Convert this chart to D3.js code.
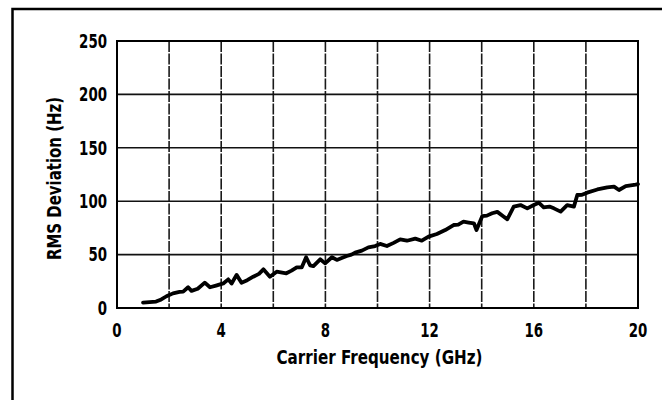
<!DOCTYPE html>
<html>
<head>
<meta charset="utf-8">
<script src="https://cdn.jsdelivr.net/npm/d3@7"></script>
<style>
	body { margin: 0; background: #fff; }
	text { font-family: "DejaVu Sans", sans-serif; font-stretch: condensed; font-weight: bold; fill: #000; }
</style>
</head>
<body>
<script>
// values
const freqGHz = [
	1.0, 1.25, 1.5, 1.7, 1.9, 2.15, 2.4, 2.54, 2.73, 2.86,
	3.1, 3.37, 3.57, 3.8, 4.08, 4.27, 4.4, 4.59, 4.78, 5.0,
	5.23, 5.45, 5.62, 5.87, 6.13, 6.5, 6.7, 6.9, 7.09, 7.26,
	7.41, 7.54, 7.8, 7.99, 8.25, 8.44, 8.65, 8.82, 9.0, 9.14,
	9.4, 9.65, 9.91, 10.1, 10.36, 10.62, 10.87, 11.13, 11.45, 11.7,
	11.96, 12.28, 12.6, 12.92, 13.1, 13.3, 13.5, 13.7, 13.8, 14.02,
	14.2, 14.4, 14.6, 14.85, 14.98, 15.23, 15.49, 15.75, 16.0, 16.19,
	16.38, 16.6, 16.77, 17.03, 17.28, 17.54, 17.67, 17.85, 18.05, 18.44,
	18.82, 19.08, 19.27, 19.53, 19.91, 20.0
];
const rmsHz = [
	5, 5.5, 6, 8, 11, 13.7, 15, 15.3, 19.4, 16,
	18, 23.7, 19.4, 21, 23, 26.8, 23, 31, 23.7, 26,
	29.3, 32, 36.2, 29.3, 34, 32.5, 35, 38, 38, 47.5,
	40, 39.3, 45.6, 41.8, 47.5, 45, 47, 48.7, 50, 51.8,
	53.7, 56.8, 58, 60, 58, 61, 64.3, 63, 65, 63,
	66.8, 69.3, 73, 77.7, 78, 80.8, 80, 79.3, 73, 86,
	86.5, 88.7, 90, 85.5, 83, 94.9, 96.4, 93.3, 96.4, 98.6,
	94.3, 95, 93.3, 90.2, 96.4, 94.9, 105.8, 106, 108, 111,
	113, 113.6, 110.5, 114.2, 115.5, 116
];
const xTicks = [0, 4, 8, 12, 16, 20];
const xGrid = [2, 4, 6, 8, 10, 12, 14, 16, 18];
const yTicks = [0, 50, 100, 150, 200, 250];
const yGrid = [50, 100, 150, 200];
const xTitle = 'Carrier Frequency (GHz)';
const yTitle = 'RMS Deviation (Hz)';

const width = 662, height = 400;
const plot = { left: 117, right: 638, top: 41, bottom: 308 };
const DIGIT_W = 9.3; // narrow condensed face in the scan

const svg = d3.select('body').append('svg')
	.attr('width', width)
	.attr('height', height);

// outer frame, runs off the picture on the right and bottom
svg.append('rect')
	.attr('x', 12.5).attr('y', 9)
	.attr('width', width + 20).attr('height', height + 20)
	.attr('fill', 'none')
	.attr('stroke', '#000')
	.attr('stroke-width', 2.5);

const x = d3.scaleLinear().domain([0, 20]).range([plot.left, plot.right]);
const y = d3.scaleLinear().domain([0, 250]).range([plot.bottom, plot.top]);

// grid
svg.append('g').selectAll('line')
	.data(xGrid)
	.join('line')
	.attr('x1', d => x(d)).attr('x2', d => x(d))
	.attr('y1', plot.top).attr('y2', plot.bottom)
	.attr('stroke', '#1a1a1a')
	.attr('stroke-width', 1.6)
	.attr('stroke-dasharray', '11,1.5');

svg.append('g').selectAll('line')
	.data(yGrid)
	.join('line')
	.attr('x1', plot.left).attr('x2', plot.right)
	.attr('y1', d => y(d)).attr('y2', d => y(d))
	.attr('stroke', '#111')
	.attr('stroke-width', 1.6);

svg.append('rect')
	.attr('x', plot.left).attr('y', plot.top)
	.attr('width', plot.right - plot.left)
	.attr('height', plot.bottom - plot.top)
	.attr('fill', 'none')
	.attr('stroke', '#000')
	.attr('stroke-width', 2);

// tick labels, squeezed to the condensed widths of the scan
svg.append('g').selectAll('text')
	.data(yTicks)
	.join('text')
	.attr('x', plot.left - 10)
	.attr('y', d => y(d))
	.attr('dy', '0.36em')
	.attr('text-anchor', 'end')
	.attr('textLength', d => String(d).length * DIGIT_W)
	.attr('lengthAdjust', 'spacingAndGlyphs')
	.style('font-size', '19px')
	.text(d => d);

svg.append('g').selectAll('text')
	.data(xTicks)
	.join('text')
	.attr('x', d => x(d))
	.attr('y', 330)
	.attr('dy', '0.36em')
	.attr('text-anchor', 'middle')
	.attr('textLength', d => String(d).length * DIGIT_W)
	.attr('lengthAdjust', 'spacingAndGlyphs')
	.style('font-size', '19px')
	.text(d => d);

svg.append('text')
	.attr('x', (plot.left + plot.right) / 2 + 2)
	.attr('y', 357)
	.attr('dy', '0.36em')
	.attr('text-anchor', 'middle')
	.attr('textLength', 206)
	.attr('lengthAdjust', 'spacingAndGlyphs')
	.style('font-size', '19px')
	.text(xTitle);

svg.append('text')
	.attr('transform', `translate(54,${(plot.top + plot.bottom) / 2 + 4}) rotate(-90)`)
	.attr('dy', '0.36em')
	.attr('text-anchor', 'middle')
	.attr('textLength', 163)
	.attr('lengthAdjust', 'spacingAndGlyphs')
	.style('font-size', '19px')
	.text(yTitle);

// the trace
const line = d3.line()
	.x(d => x(d[0]))
	.y(d => y(d[1]));

svg.append('path')
	.datum(d3.zip(freqGHz, rmsHz))
	.attr('d', line)
	.attr('fill', 'none')
	.attr('stroke', '#000')
	.attr('stroke-width', 3.8)
	.attr('stroke-linejoin', 'round')
	.attr('stroke-linecap', 'round');
</script>
</body>
</html>
